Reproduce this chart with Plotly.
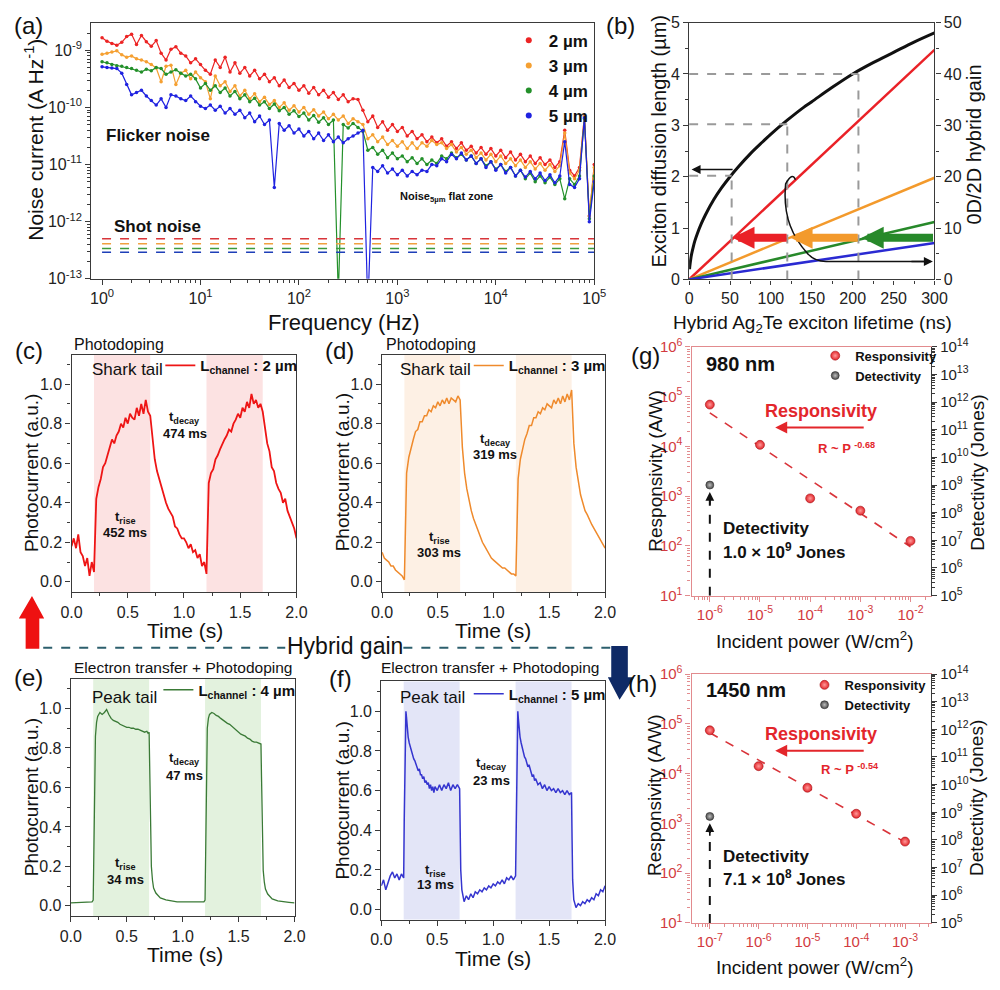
import math
import plotly.graph_objects as go

FONT = "Arial, Liberation Sans, Helvetica, sans-serif"
W, H = 1000, 990


def px(x):
    return x / W


def py(y):
    return 1 - y / H


# ---------------- (a) noise spectra (log10 values) ----------------
freq_log10 = [0.00, 0.05, 0.10, 0.15, 0.20, 0.25, 0.30, 0.35, 0.40, 0.45, 0.50, 0.55, 0.60, 0.65, 0.70,
              0.75, 0.80, 0.85, 0.90, 0.95, 1.00, 1.05, 1.10, 1.15, 1.20, 1.25, 1.30, 1.35, 1.40, 1.45,
              1.50, 1.55, 1.60, 1.65, 1.70, 1.75, 1.80, 1.85, 1.90, 1.95, 2.00, 2.05, 2.10, 2.15, 2.20,
              2.25, 2.30, 2.35, 2.40, 2.45, 2.50, 2.55, 2.60, 2.65, 2.70, 2.75, 2.80, 2.85, 2.90, 2.95,
              3.00, 3.05, 3.10, 3.15, 3.20, 3.25, 3.30, 3.35, 3.40, 3.45, 3.50, 3.55, 3.60, 3.65, 3.70,
              3.75, 3.80, 3.85, 3.90, 3.95, 4.00, 4.05, 4.10, 4.15, 4.20, 4.25, 4.30, 4.35, 4.40, 4.45,
              4.50, 4.55, 4.60, 4.65, 4.70, 4.75, 4.80, 4.85, 4.90, 4.95, 5.00]
noise_2um_log10 = [-8.78, -8.84, -8.88, -8.91, -8.86, -8.76, -8.72, -8.90, -8.74, -8.85, -8.93, -8.83, -9.05, -9.17, -8.98,
                   -8.94, -9.05, -9.10, -9.22, -9.15, -9.25, -9.35, -9.42, -9.17, -9.30, -9.12, -9.38, -9.22, -9.40, -9.30,
                   -9.45, -9.35, -9.50, -9.42, -9.55, -9.48, -9.62, -9.52, -9.65, -9.58, -9.70, -9.62, -9.75, -9.65, -9.78,
                   -9.70, -9.82, -9.74, -9.86, -9.78, -9.90, -9.85, -9.86, -10.05, -10.25, -10.15, -10.35, -10.25, -10.40, -10.30,
                   -10.42, -10.35, -10.50, -10.42, -10.55, -10.48, -10.60, -10.52, -10.62, -10.55, -10.68, -10.60, -10.72, -10.62, -10.75,
                   -10.68, -10.80, -10.70, -10.82, -10.72, -10.85, -10.75, -10.88, -10.78, -10.92, -10.82, -10.95, -10.85, -10.98, -10.88,
                   -11.00, -10.92, -11.05, -10.95, -10.40, -11.10, -11.20, -11.05, -10.15, -11.90, -11.00]
noise_3um_log10 = [-9.07, -9.05, -9.03, -9.01, -9.08, -9.12, -9.10, -9.15, -9.17, -9.20, -9.25, -9.31, -9.55, -9.28, -9.26,
                   -9.60, -9.40, -9.35, -9.50, -9.38, -9.48, -9.55, -9.85, -9.45, -9.62, -9.55, -9.72, -9.62, -9.80, -9.70,
                   -9.85, -9.76, -9.90, -9.82, -9.95, -9.88, -10.00, -9.92, -10.05, -9.97, -10.08, -10.00, -10.12, -10.04, -10.15,
                   -10.08, -10.20, -10.12, -10.22, -10.15, -10.28, -10.20, -10.25, -10.30, -10.55, -10.48, -10.60, -10.52, -10.65, -10.58,
                   -10.68, -10.60, -10.72, -10.62, -10.72, -10.62, -10.68, -10.58, -10.65, -10.62, -10.72, -10.65, -10.78, -10.70, -10.82,
                   -10.75, -10.88, -10.80, -10.92, -10.82, -10.95, -10.85, -10.98, -10.90, -11.02, -10.92, -11.05, -10.95, -11.08, -10.98,
                   -11.10, -11.00, -11.12, -11.02, -10.45, -11.15, -11.25, -11.10, -10.15, -11.90, -11.05]
noise_4um_log10 = [-9.20, -9.22, -9.25, -9.27, -9.28, -9.30, -9.32, -9.35, -9.38, -9.33, -9.36, -9.30, -9.32, -9.42, -9.38,
                   -9.34, -9.40, -9.45, -9.42, -9.50, -9.66, -9.58, -9.70, -9.62, -9.74, -9.66, -9.80, -9.72, -9.85, -9.78,
                   -9.90, -9.84, -9.96, -9.90, -10.02, -9.94, -10.06, -10.00, -10.12, -10.06, -10.16, -10.10, -10.22, -10.14, -10.26,
                   -10.18, -10.30, -10.22, -13.30, -10.30, -10.36, -10.28, -10.35, -10.42, -10.75, -10.70, -10.82, -10.75, -10.88, -10.80,
                   -10.90, -10.85, -10.95, -10.88, -10.98, -10.90, -11.00, -10.92, -10.98, -10.85, -10.90, -10.80, -10.88, -10.82, -10.92,
                   -10.85, -10.98, -10.90, -11.02, -10.95, -11.08, -11.00, -11.12, -11.05, -11.20, -11.10, -11.25, -11.15, -11.30, -11.20,
                   -11.32, -11.22, -11.35, -11.25, -11.60, -11.25, -11.35, -11.20, -10.20, -11.95, -11.20]
noise_5um_log10 = [-9.29, -9.30, -9.31, -9.32, -9.40, -9.60, -9.78, -9.74, -9.70, -9.80, -9.88, -9.96, -9.85, -10.00, -9.78,
                   -9.80, -9.85, -9.88, -9.80, -9.90, -9.98, -10.02, -9.96, -10.05, -9.98, -10.10, -10.02, -10.12, -10.05, -10.18,
                   -10.10, -10.25, -10.15, -10.30, -10.22, -11.40, -10.28, -10.40, -10.32, -10.45, -10.38, -10.50, -10.42, -10.55, -10.45,
                   -10.58, -10.48, -10.60, -10.52, -10.62, -10.55, -10.50, -10.45, -10.40, -13.50, -11.05, -11.12, -11.02, -11.15, -11.08,
                   -11.18, -11.10, -11.20, -11.12, -11.18, -11.10, -11.12, -11.00, -11.02, -10.90, -10.95, -10.82, -10.90, -10.80, -10.92,
                   -10.85, -10.98, -10.90, -11.05, -10.95, -11.10, -11.00, -11.15, -11.05, -11.20, -11.10, -11.22, -11.12, -11.25, -11.15,
                   -11.28, -11.18, -11.32, -11.20, -10.60, -11.35, -11.40, -11.25, -10.18, -12.00, -11.30]
channel_labels = ["2 µm", "3 µm", "4 µm", "5 µm"]
shot_noise = [5.0e-13, 4.1e-13, 3.4e-13, 2.9e-13]
a_colors = ["#ec2424", "#f5a032", "#23902a", "#1f22e0"]
a_shot_colors = ["#d8353a", "#f0a040", "#3c9a3c", "#1e3fb8"]

# ---------------- (b) diffusion length & hybrid gain ----------------
tau_ns = [0.5, 1, 2, 3, 5, 7, 10, 15, 20, 30, 40, 50, 60, 75, 90, 100, 120, 140, 150, 175, 200, 225, 250, 275, 300]
diff_len_um = [0.2, 0.28, 0.4, 0.49, 0.63, 0.75, 0.89, 1.09, 1.26, 1.55, 1.79, 2.0, 2.19, 2.45, 2.68, 2.83, 3.1,
               3.35, 3.46, 3.74, 4.0, 4.22, 4.42, 4.62, 4.80]
gain_tau = [0, 300]
gain_2um = [0, 44.7]
gain_3um = [0, 19.8]
gain_4um = [0, 11.2]
gain_5um = [0, 7.1]
guide_tau = [52, 120, 207]
guide_len = [2.02, 3.02, 4.0]
b_colors = ["#ea2127", "#f39a2c", "#27892a", "#2a2ad2"]

# ---------------- (c)-(f) photocurrent transients ----------------
light_on = [(0.2, 0.7), (1.2, 1.7)]
t_cd = [0.00, 0.02, 0.04, 0.06, 0.08, 0.10, 0.12, 0.14, 0.16, 0.18, 0.20, 0.22, 0.24, 0.26, 0.28, 0.30, 0.32,
        0.34, 0.36, 0.38, 0.40, 0.42, 0.44, 0.46, 0.48, 0.50, 0.52, 0.54, 0.56, 0.58, 0.60, 0.62, 0.64, 0.66,
        0.68, 0.70, 0.72, 0.74, 0.76, 0.78, 0.80, 0.82, 0.84, 0.86, 0.88, 0.90, 0.92, 0.94, 0.96, 0.98, 1.00,
        1.02, 1.04, 1.06, 1.08, 1.10, 1.12, 1.14, 1.16, 1.18, 1.20, 1.22, 1.24, 1.26, 1.28, 1.30, 1.32, 1.34,
        1.36, 1.38, 1.40, 1.42, 1.44, 1.46, 1.48, 1.50, 1.52, 1.54, 1.56, 1.58, 1.60, 1.62, 1.64, 1.66, 1.68,
        1.70, 1.72, 1.74, 1.76, 1.78, 1.80, 1.82, 1.84, 1.86, 1.88, 1.90, 1.92, 1.94, 1.96, 1.98, 2.00]
pc_2um = [0.18, 0.22, 0.17, 0.24, 0.15, 0.13, 0.08, 0.12, 0.03, 0.10, 0.05,
          0.42, 0.48, 0.52, 0.58, 0.60, 0.64, 0.68, 0.72, 0.70, 0.74, 0.76, 0.80, 0.78, 0.83, 0.80, 0.85, 0.83, 0.82,
          0.88, 0.84, 0.90, 0.85, 0.92, 0.86, 0.84,
          0.74, 0.62, 0.56, 0.52, 0.47, 0.44, 0.40, 0.37, 0.35, 0.33, 0.28, 0.27, 0.24, 0.22, 0.22, 0.20, 0.17, 0.19,
          0.15, 0.16, 0.12, 0.14, 0.08, 0.10, 0.04,
          0.50, 0.55, 0.57, 0.62, 0.64, 0.67, 0.70, 0.72, 0.74, 0.77, 0.76, 0.80, 0.82, 0.85, 0.83, 0.88, 0.86, 0.91,
          0.88, 0.95, 0.90, 0.92, 0.88, 0.90, 0.86,
          0.78, 0.70, 0.66, 0.58, 0.56, 0.50, 0.47, 0.45, 0.40, 0.42, 0.36, 0.33, 0.30, 0.27, 0.22]
pc_3um = [0.15, 0.12, 0.11, 0.10, 0.08, 0.08, 0.06, 0.05, 0.04, 0.03, 0.01,
          0.55, 0.63, 0.68, 0.72, 0.76, 0.77, 0.81, 0.81, 0.84, 0.84, 0.87, 0.86, 0.89, 0.88, 0.91, 0.89, 0.92, 0.90,
          0.93, 0.90, 0.93, 0.92, 0.91, 0.94, 0.92,
          0.68, 0.55, 0.47, 0.41, 0.36, 0.32, 0.29, 0.25, 0.23, 0.20, 0.18, 0.16, 0.14, 0.12, 0.11, 0.10, 0.09, 0.08,
          0.07, 0.07, 0.06, 0.05, 0.04, 0.04, 0.03,
          0.52, 0.62, 0.67, 0.72, 0.75, 0.79, 0.79, 0.83, 0.83, 0.86, 0.85, 0.88, 0.87, 0.90, 0.89, 0.88, 0.92, 0.90,
          0.93, 0.90, 0.94, 0.91, 0.95, 0.92, 0.97,
          0.70, 0.58, 0.50, 0.44, 0.40, 0.36, 0.34, 0.31, 0.29, 0.27, 0.25, 0.23, 0.21, 0.19, 0.17]
trace_4um = [(0.00, 0.015), (0.05, 0.017), (0.10, 0.018), (0.15, 0.02), (0.19, 0.02), (0.20, 0.03), (0.205, 0.25),
             (0.21, 0.55), (0.215, 0.75), (0.22, 0.86), (0.23, 0.93), (0.24, 0.96), (0.26, 0.98), (0.28, 0.97),
             (0.30, 0.98), (0.32, 0.995), (0.34, 0.97), (0.36, 0.95), (0.38, 0.94), (0.40, 0.935), (0.42, 0.93),
             (0.44, 0.92), (0.46, 0.915), (0.48, 0.91), (0.50, 0.905), (0.52, 0.905), (0.54, 0.90), (0.56, 0.90),
             (0.58, 0.895), (0.60, 0.895), (0.62, 0.89), (0.64, 0.885), (0.66, 0.88), (0.68, 0.885), (0.69, 0.875),
             (0.70, 0.88), (0.705, 0.70), (0.71, 0.45), (0.715, 0.30), (0.72, 0.20), (0.73, 0.13), (0.74, 0.09),
             (0.76, 0.065), (0.78, 0.05), (0.80, 0.04), (0.85, 0.03), (0.90, 0.025), (0.95, 0.02), (1.00, 0.02),
             (1.05, 0.02), (1.10, 0.018), (1.15, 0.02), (1.19, 0.02), (1.20, 0.03), (1.205, 0.30), (1.21, 0.60),
             (1.215, 0.80), (1.22, 0.90), (1.23, 0.95), (1.24, 0.97), (1.26, 0.98), (1.28, 0.975), (1.30, 0.965),
             (1.32, 0.96), (1.34, 0.95), (1.36, 0.94), (1.38, 0.935), (1.40, 0.925), (1.42, 0.92), (1.44, 0.91),
             (1.46, 0.90), (1.48, 0.895), (1.50, 0.88), (1.52, 0.87), (1.54, 0.865), (1.56, 0.86), (1.58, 0.85),
             (1.60, 0.845), (1.62, 0.835), (1.64, 0.83), (1.66, 0.83), (1.68, 0.825), (1.69, 0.82), (1.70, 0.82),
             (1.705, 0.65), (1.71, 0.40), (1.715, 0.26), (1.72, 0.18), (1.73, 0.12), (1.74, 0.085), (1.76, 0.06),
             (1.78, 0.045), (1.80, 0.035), (1.85, 0.025), (1.90, 0.02), (1.95, 0.018), (2.00, 0.015)]
trace_5um = [(0.00, 0.12), (0.02, 0.15), (0.04, 0.10), (0.06, 0.14), (0.08, 0.17), (0.10, 0.19), (0.12, 0.16),
             (0.14, 0.18), (0.16, 0.15), (0.18, 0.18), (0.20, 0.16), (0.205, 0.45), (0.21, 0.75), (0.215, 0.93),
             (0.22, 1.0), (0.225, 0.97), (0.23, 0.92), (0.24, 0.87), (0.25, 0.84), (0.26, 0.82), (0.27, 0.79),
             (0.28, 0.78), (0.29, 0.76), (0.30, 0.75), (0.31, 0.73), (0.32, 0.72), (0.33, 0.70), (0.34, 0.71),
             (0.35, 0.68), (0.36, 0.68), (0.37, 0.66), (0.38, 0.67), (0.39, 0.64), (0.40, 0.65), (0.41, 0.63),
             (0.42, 0.64), (0.43, 0.61), (0.44, 0.63), (0.45, 0.60), (0.46, 0.62), (0.47, 0.59), (0.48, 0.62),
             (0.50, 0.60), (0.52, 0.63), (0.54, 0.60), (0.56, 0.63), (0.58, 0.61), (0.60, 0.64), (0.62, 0.60),
             (0.64, 0.63), (0.66, 0.61), (0.68, 0.63), (0.70, 0.61), (0.705, 0.40), (0.71, 0.20), (0.72, 0.10),
             (0.73, 0.06), (0.74, 0.04), (0.76, 0.07), (0.78, 0.05), (0.80, 0.08), (0.82, 0.06), (0.84, 0.09),
             (0.86, 0.08), (0.88, 0.10), (0.90, 0.09), (0.92, 0.11), (0.94, 0.10), (0.96, 0.12), (0.98, 0.11),
             (1.00, 0.13), (1.02, 0.12), (1.04, 0.14), (1.06, 0.13), (1.08, 0.15), (1.10, 0.13), (1.12, 0.16),
             (1.14, 0.15), (1.16, 0.17), (1.18, 0.15), (1.20, 0.17), (1.205, 0.45), (1.21, 0.75), (1.215, 0.93),
             (1.22, 1.0), (1.225, 0.96), (1.23, 0.91), (1.24, 0.87), (1.25, 0.84), (1.26, 0.81), (1.27, 0.79),
             (1.28, 0.77), (1.29, 0.76), (1.30, 0.74), (1.31, 0.72), (1.32, 0.73), (1.33, 0.70), (1.34, 0.69),
             (1.35, 0.67), (1.36, 0.68), (1.37, 0.65), (1.38, 0.66), (1.40, 0.63), (1.42, 0.64), (1.44, 0.61),
             (1.46, 0.63), (1.48, 0.60), (1.50, 0.62), (1.52, 0.60), (1.54, 0.61), (1.56, 0.59), (1.58, 0.61),
             (1.60, 0.59), (1.62, 0.60), (1.64, 0.58), (1.66, 0.60), (1.68, 0.58), (1.70, 0.59), (1.705, 0.35),
             (1.71, 0.15), (1.72, 0.05), (1.73, 0.02), (1.74, 0.01), (1.76, 0.03), (1.78, 0.02), (1.80, 0.04),
             (1.82, 0.03), (1.84, 0.05), (1.86, 0.04), (1.88, 0.06), (1.90, 0.05), (1.92, 0.08), (1.94, 0.07),
             (1.96, 0.10), (1.98, 0.09), (2.00, 0.12)]

# ---------------- (g), (h) responsivity / detectivity ----------------
power_980 = [1e-6, 1e-5, 1e-4, 1e-3, 1e-2]
resp_980 = [6.9e4, 1.07e4, 9.0e2, 5.1e2, 1.26e2]
fit_980_power = [1e-6, 1e-2]
fit_980_resp = [4.7e4, 9.6e1]
det_980_power = [1e-6]
det_980 = [1.0e9]
power_1450 = [1e-7, 1e-6, 1e-5, 1e-4, 1e-3]
resp_1450 = [7.4e4, 1.41e4, 5.2e3, 1.56e3, 4.3e2]
fit_1450_power = [1e-7, 1e-3]
fit_1450_resp = [6.6e4, 4.2e2]
det_1450_power = [1e-7]
det_1450 = [7.1e8]

# ---------------- tick labels ----------------
freq_ticks = [1, 10, 100, 1e3, 1e4, 1e5]
freq_ticktext = ["10<sup>0</sup>", "10<sup>1</sup>", "10<sup>2</sup>", "10<sup>3</sup>", "10<sup>4</sup>", "10<sup>5</sup>"]
noise_ticks = [1e-13, 1e-12, 1e-11, 1e-10, 1e-9]
noise_ticktext = ["10<sup>-13</sup>", "10<sup>-12</sup>", "10<sup>-11</sup>", "10<sup>-10</sup>", "10<sup>-9</sup>"]
resp_ticks = [1e1, 1e2, 1e3, 1e4, 1e5, 1e6]
resp_ticktext = ["10<sup>1</sup>", "10<sup>2</sup>", "10<sup>3</sup>", "10<sup>4</sup>", "10<sup>5</sup>", "10<sup>6</sup>"]
det_ticks = [1e5, 1e6, 1e7, 1e8, 1e9, 1e10, 1e11, 1e12, 1e13, 1e14]
det_ticktext = ["10<sup>5</sup>", "10<sup>6</sup>", "10<sup>7</sup>", "10<sup>8</sup>", "10<sup>9</sup>",
                "10<sup>10</sup>", "10<sup>11</sup>", "10<sup>12</sup>", "10<sup>13</sup>", "10<sup>14</sup>"]
p980_ticks = [1e-6, 1e-5, 1e-4, 1e-3, 1e-2]
p980_ticktext = ["10<sup>-6</sup>", "10<sup>-5</sup>", "10<sup>-4</sup>", "10<sup>-3</sup>", "10<sup>-2</sup>"]
p1450_ticks = [1e-7, 1e-6, 1e-5, 1e-4, 1e-3]
p1450_ticktext = ["10<sup>-7</sup>", "10<sup>-6</sup>", "10<sup>-5</sup>", "10<sup>-4</sup>", "10<sup>-3</sup>"]


def log_minor(lo, hi):
    out = []
    for e in range(lo, hi):
        for m in range(2, 10):
            out.append(m * 10.0 ** e)
    return out


fig = go.Figure()

# ---- (a)
freq_hz = [10 ** v for v in freq_log10]
for name, vals, col in zip(channel_labels,
                           [noise_2um_log10, noise_3um_log10, noise_4um_log10, noise_5um_log10], a_colors):
    fig.add_trace(go.Scatter(x=freq_hz, y=[10 ** v for v in vals], mode="lines+markers",
                             line=dict(color=col, width=1.2), marker=dict(size=3.5, color=col),
                             showlegend=False, xaxis="x", yaxis="y"))
for name, s, col in zip(channel_labels, shot_noise, a_shot_colors):
    fig.add_trace(go.Scatter(x=[freq_hz[0], freq_hz[-1]], y=[s, s], mode="lines",
                             line=dict(color=col, width=1.5, dash="dash"), showlegend=False,
                             xaxis="x", yaxis="y"))
for name, col in zip(channel_labels, a_colors):
    fig.add_trace(go.Scatter(x=[None], y=[None], mode="markers", marker=dict(size=6, color=col),
                             name="<b>%s</b>" % name, legend="legend", xaxis="x", yaxis="y"))

# ---- (b)
fig.add_trace(go.Scatter(x=tau_ns, y=diff_len_um, mode="lines", line=dict(color="#111", width=3, shape="spline"),
                         showlegend=False, xaxis="x2", yaxis="y2"))
for g, col in zip([gain_2um, gain_3um, gain_4um, gain_5um], b_colors):
    fig.add_trace(go.Scatter(x=gain_tau, y=g, mode="lines", line=dict(color=col, width=2.5),
                             showlegend=False, xaxis="x2", yaxis="y3"))

# ---- (c)-(f)
t_4um = [p[0] for p in trace_4um]
v_4um = [p[1] for p in trace_4um]
t_5um = [p[0] for p in trace_5um]
v_5um = [p[1] for p in trace_5um]
transients = [
    (t_cd, pc_2um, "#ee1515", 1.8, "x3", "y4", "legend2", "2 µm"),
    (t_cd, pc_3um, "#ef8a2c", 1.5, "x4", "y5", "legend3", "3 µm"),
    (t_4um, v_4um, "#3a7a36", 1.3, "x5", "y6", "legend4", "4 µm"),
    (t_5um, v_5um, "#3535cf", 1.5, "x6", "y7", "legend5", "5 µm"),
]
for t, v, col, lw, xa, ya, lg, lab in transients:
    fig.add_trace(go.Scatter(x=t, y=v, mode="lines", line=dict(color=col, width=lw),
                             name="<b>L<sub>channel</sub> : %s</b>" % lab, legend=lg, xaxis=xa, yaxis=ya))

# ---- (g), (h)
RED = "#e3262b"
AXRED = "#e28b8e"
TXRED = "#d23a40"
for (pw, rs, fp, fr, dp, dv, xa, yl, yr, lg) in [
        (power_980, resp_980, fit_980_power, fit_980_resp, det_980_power, det_980, "x7", "y8", "y9", "legend6"),
        (power_1450, resp_1450, fit_1450_power, fit_1450_resp, det_1450_power, det_1450, "x8", "y10", "y11", "legend7")]:
    fig.add_trace(go.Scatter(x=fp, y=fr, mode="lines", line=dict(color="#d9343a", width=1.6, dash="dash"),
                             showlegend=False, xaxis=xa, yaxis=yl))
    fig.add_trace(go.Scatter(x=pw, y=rs, mode="markers", name="<b>Responsivity</b>", legend=lg,
                             marker=dict(size=9, color=RED, line=dict(color="#a51218", width=0.6),
                                         gradient=dict(type="radial", color="#ff9a9a")),
                             xaxis=xa, yaxis=yl))
    fig.add_trace(go.Scatter(x=[dp[0], dp[0]], y=[1e5, dv[0] * 10 ** -0.35], mode="lines",
                             line=dict(color="#111", width=2, dash="dash"), showlegend=False,
                             xaxis=xa, yaxis=yr))
    fig.add_trace(go.Scatter(x=dp, y=dv, mode="markers", name="<b>Detectivity</b>", legend=lg,
                             marker=dict(size=8, color="#4a4a4a", line=dict(color="#333", width=0.6),
                                         gradient=dict(type="radial", color="#bdbdbd")),
                             xaxis=xa, yaxis=yr))


# ---------------- axes ----------------
def axis(size=15, **kw):
    base = dict(showline=True, linecolor="#3a3a3a", linewidth=1.2, mirror=True, ticks="outside",
                ticklen=5, tickwidth=1.1, tickcolor="#3a3a3a", showgrid=False, zeroline=False,
                tickfont=dict(size=size, color="#222", family=FONT))
    base.update(kw)
    return base


layout_axes = {}
# (a)
layout_axes["xaxis"] = axis(16, type="log", range=[-0.11, 5.0], domain=[px(82.2), px(597.6)], anchor="y",
                            tickmode="array", tickvals=freq_ticks, ticktext=freq_ticktext,
                            minor=dict(tickvals=log_minor(0, 5), ticklen=3, ticks="outside", tickcolor="#3a3a3a"))
layout_axes["yaxis"] = axis(16, type="log", range=[-13, -8.53], domain=[py(273.3), py(12.7)], anchor="x",
                            tickmode="array", tickvals=noise_ticks, ticktext=noise_ticktext,
                            minor=dict(tickvals=log_minor(-13, -8), ticklen=3, ticks="outside", tickcolor="#3a3a3a"))
# (b)
layout_axes["xaxis2"] = axis(16, range=[0, 300], domain=[px(694.8), px(946.2)], anchor="y2", dtick=50, ticklen=4,
                             minor=dict(dtick=25, ticklen=3, ticks="outside"))
layout_axes["yaxis2"] = axis(16, range=[0, 5], domain=[py(274), py(11.8)], anchor="x2", dtick=1, mirror=False,
                             minor=dict(dtick=0.5, ticklen=3, ticks="outside"))
layout_axes["yaxis3"] = axis(16, range=[0, 50], overlaying="y2", side="right", anchor="x2", dtick=10, mirror=False,
                             minor=dict(dtick=5, ticklen=3, ticks="outside"))
# (c)-(f)
tr_axes = [("xaxis3", "yaxis4", "x3", "y4", 62, 292.5, 593.3, 350.7, [-0.053, 1.149]),
           ("xaxis4", "yaxis5", "x4", "y5", 380.2, 608.7, 593.3, 350.7, [-0.053, 1.149]),
           ("xaxis5", "yaxis6", "x5", "y6", 61.3, 290.5, 924.0, 681.7, [-0.053, 1.15]),
           ("xaxis6", "yaxis7", "x6", "y7", 379.4, 608.7, 927.3, 684.3, [-0.05, 1.15])]
for xn, yn, xs, ys, l, r, b, t, yr in tr_axes:
    layout_axes[xn] = axis(16, range=[0, 2], domain=[px(l), px(r)], anchor=ys, dtick=0.5, tickformat=".1f",
                           minor=dict(dtick=0.25, ticklen=3, ticks="outside"))
    layout_axes[yn] = axis(16, range=yr, domain=[py(b), py(t)], anchor=xs, tickmode="array",
                           tickvals=[0, 0.2, 0.4, 0.6, 0.8, 1.0], tickformat=".1f",
                           minor=dict(tickvals=[0.1, 0.3, 0.5, 0.7, 0.9, 1.1], ticklen=3, ticks="outside"))
# (g), (h)
gh_axes = [("xaxis7", "yaxis8", "yaxis9", "x7", "y8", [-6.364, -1.59], p980_ticks, p980_ticktext,
            log_minor(-7, -1), 596.7, 342.7),
           ("xaxis8", "yaxis10", "yaxis11", "x8", "y10", [-7.374, -2.466], p1450_ticks, p1450_ticktext,
            log_minor(-8, -2), 930.7, 676.7)]
for xn, yln, yrn, xs, ys, xr, tv, tt, mn, b, t in gh_axes:
    layout_axes[xn] = axis(15, type="log", range=xr, domain=[px(697.3), px(942.7)], anchor=ys,
                           tickmode="array", tickvals=tv, ticktext=tt, linecolor=AXRED, tickcolor=AXRED,
                           tickfont=dict(size=15, color=TXRED, family=FONT),
                           minor=dict(tickvals=mn, ticklen=3, ticks="outside", tickcolor=AXRED))
    layout_axes[yln] = axis(15, type="log", range=[1, 6], domain=[py(b), py(t)], anchor=xs, mirror=False,
                            tickmode="array", tickvals=resp_ticks, ticktext=resp_ticktext,
                            linecolor=AXRED, tickcolor=AXRED, tickfont=dict(size=15, color=TXRED, family=FONT),
                            minor=dict(tickvals=log_minor(1, 6), ticklen=3, ticks="outside", tickcolor=AXRED))
    layout_axes[yrn] = axis(15, type="log", range=[5, 14], overlaying=ys, side="right", anchor=xs, mirror=False,
                            tickmode="array", tickvals=det_ticks, ticktext=det_ticktext,
                            minor=dict(tickvals=log_minor(5, 14), ticklen=3, ticks="outside"))

# ---------------- annotations ----------------
ann = []


def txt(text, x, y, size=14, bold=False, color="#111", xanchor="center", angle=0):
    if bold:
        text = "<b>%s</b>" % text
    ann.append(dict(text=text, x=px(x), y=py(y), xref="paper", yref="paper", showarrow=False,
                    xanchor=xanchor, yanchor="middle", textangle=angle,
                    font=dict(size=size, color=color, family=FONT)))


# panel letters
for lab, x, y in [("(a)", 18, 15), ("(b)", 624, 15), ("(c)", 18, 346), ("(d)", 337, 346),
                  ("(e)", 18, 680), ("(f)", 338, 681), ("(g)", 650, 352), ("(h)", 647, 686)]:
    txt(lab, x, y, size=24)

# (a)
txt("Noise current (A Hz<sup>-1</sup>)", 24, 131, size=21, angle=-90)
txt("Frequency (Hz)", 341, 318, size=22)
txt("Flicker noise", 95, 127, size=17, bold=True, xanchor="left")
txt("Shot noise", 103, 220, size=17, bold=True, xanchor="left")
txt("Noise<sub>5µm</sub> flat zone", 397, 190, size=11, bold=True, xanchor="left")
# (b)
txt("Exciton diffusion length (µm)", 664, 133, size=20, angle=-90)
txt("0D/2D hybrid gain", 987, 136, size=20, angle=-90)
txt("Hybrid Ag<sub>2</sub>Te exciton lifetime (ns)", 821, 319, size=19)
# (c)
txt("Photodoping", 63, 340, size=16, xanchor="left")
txt("Shark tail", 81, 366, size=17, xanchor="left")
txt("t<sub>decay</sub>", 178, 415, size=13, bold=True)
txt("474 ms", 178, 431, size=13, bold=True)
txt("t<sub>rise</sub>", 117, 517, size=13, bold=True)
txt("452 ms", 117, 532, size=13, bold=True)
txt("Photocurrent (a.u.)", 21, 471, size=19, angle=-90)
txt("Time (s)", 178, 632, size=21)
# (d)
txt("Photodoping", 382, 340, size=16, xanchor="left")
txt("Shark tail", 397, 366, size=17, xanchor="left")
txt("t<sub>decay</sub>", 496, 437, size=13, bold=True)
txt("319 ms", 496, 453, size=13, bold=True)
txt("t<sub>rise</sub>", 439, 537, size=13, bold=True)
txt("303 ms", 439, 553, size=13, bold=True)
txt("Photocurrent (a.u.)", 340, 471, size=19, angle=-90)
txt("Time (s)", 494, 632, size=21)
# hybrid gain
txt("Hybrid gain", 342, 648, size=23)
# (e)
txt("Electron transfer + Photodoping", 62, 670, size=15.5, xanchor="left")
txt("Peak tail", 81, 701, size=17, xanchor="left")
txt("t<sub>decay</sub>", 178, 763, size=13, bold=True)
txt("47 ms", 178, 780, size=13, bold=True)
txt("t<sub>rise</sub>", 117, 870, size=13, bold=True)
txt("34 ms", 117, 886, size=13, bold=True)
txt("Photocurrent (a.u.)", 21, 802, size=19, angle=-90)
txt("Time (s)", 178, 963, size=21)
# (f)
txt("Electron transfer + Photodoping", 377, 670, size=15.5, xanchor="left")
txt("Peak tail", 397, 701, size=17, xanchor="left")
txt("t<sub>decay</sub>", 492, 768, size=13, bold=True)
txt("23 ms", 492, 785, size=13, bold=True)
txt("t<sub>rise</sub>", 435, 877, size=13, bold=True)
txt("13 ms", 435, 892, size=13, bold=True)
txt("Photocurrent (a.u.)", 340, 806, size=19, angle=-90)
txt("Time (s)", 494, 967, size=21)
# (g)
txt("980 nm", 710, 360, size=20, bold=True, xanchor="left")
txt("Responsivity", 830, 408, size=18, bold=True, color=RED)
txt("R ~ P <sup>-0.68</sup>", 825, 446, size=13, bold=True, color=RED, xanchor="left")
txt("Detectivity", 727, 528, size=17, bold=True, xanchor="left")
txt("1.0 × 10<sup>9</sup> Jones", 727, 551, size=17, bold=True, xanchor="left")
txt("Responsivity (A/W)", 660, 469, size=19, angle=-90)
txt("Detectivity (Jones)", 990, 471, size=19, angle=-90)
txt("Incident power (W/cm<sup>2</sup>)", 823, 642, size=19)
# (h)
txt("1450 nm", 710, 693, size=20, bold=True, xanchor="left")
txt("Responsivity", 830, 738, size=18, bold=True, color=RED)
txt("R ~ P <sup>-0.54</sup>", 828, 774, size=13, bold=True, color=RED, xanchor="left")
txt("Detectivity", 727, 863, size=17, bold=True, xanchor="left")
txt("7.1 × 10<sup>8</sup> Jones", 727, 885, size=17, bold=True, xanchor="left")
txt("Responsivity (A/W)", 660, 800, size=19, angle=-90)
txt("Detectivity (Jones)", 990, 803, size=19, angle=-90)
txt("Incident power (W/cm<sup>2</sup>)", 823, 975, size=19)

# arrows: responsivity arrows (g, h)
for y in [425, 755]:
    ann.append(dict(x=px(783), y=py(y), xref="paper", yref="paper", ax=90, ay=0, text="",
                    showarrow=True, arrowhead=2, arrowsize=1.2, arrowwidth=2, arrowcolor=RED))
# detectivity arrow heads
for xa, yr, dp, dv in [("x7", "y9", det_980_power, det_980), ("x8", "y11", det_1450_power, det_1450)]:
    ann.append(dict(x=math.log10(dp[0]), y=math.log10(dv[0]) - 0.25, xref=xa, yref=yr, ax=0, ay=14, text="",
                    showarrow=True, arrowhead=2, arrowsize=1.1, arrowwidth=1.6, arrowcolor="#111"))
# (b) arrows
for head, tail, col in [(53, 121, b_colors[0]), (124, 208, b_colors[1]), (211, 300, b_colors[2])]:
    ann.append(dict(x=head, y=0.81, ax=tail, ay=0.81, xref="x2", yref="y2", axref="x2", ayref="y2",
                    text="", showarrow=True, arrowhead=2, arrowsize=0.55, arrowwidth=8, arrowcolor=col))
ann.append(dict(x=3, y=2.14, ax=55, ay=2.14, xref="x2", yref="y2", axref="x2", ayref="y2", text="",
                showarrow=True, arrowhead=2, arrowsize=1.2, arrowwidth=1.5, arrowcolor="#111"))
ann.append(dict(x=298, y=0.35, ax=270, ay=0.35, xref="x2", yref="y2", axref="x2", ayref="y2", text="",
                showarrow=True, arrowhead=2, arrowsize=1.2, arrowwidth=1.5, arrowcolor="#111"))

# ---------------- shapes ----------------
shapes = []
shade_cols = [("x3", "y4", "#fce2e2"), ("x4", "y5", "#fdf0e4"), ("x5", "y6", "#e3f2de"), ("x6", "y7", "#e3e5f7")]
for xa, ya, col in shade_cols:
    for t0, t1 in light_on:
        shapes.append(dict(type="rect", xref=xa, yref=ya + " domain", x0=t0, x1=t1, y0=0, y1=1,
                           fillcolor=col, line=dict(width=0), layer="below"))
for tau, L in zip(guide_tau, guide_len):
    shapes.append(dict(type="line", xref="x2", yref="y2", x0=tau, x1=tau, y0=0, y1=L,
                       line=dict(color="#9a9a9a", width=2, dash="dash")))
    shapes.append(dict(type="line", xref="x2", yref="y2", x0=0, x1=tau, y0=L, y1=L,
                       line=dict(color="#9a9a9a", width=2, dash="dash")))
shapes.append(dict(type="path", xref="x2", yref="y2",
                   path="M 130,1.94 Q 126,2.1 118,1.86 C 114,1.2 128,0.8 145,0.5 C 152,0.38 160,0.34 170,0.35 L 290,0.35",
                   line=dict(color="#111", width=1.5)))


def paper_path(pts):
    return "M " + " L ".join("%.5f,%.5f" % (px(x), py(y)) for x, y in pts) + " Z"


shapes.append(dict(type="path", xref="paper", yref="paper",
                   path=paper_path([(15, 651), (29, 651), (29, 620), (34, 620), (21.5, 597), (8, 620), (15, 620)]),
                   fillcolor="#ee1111", line=dict(width=0)))
shapes.append(dict(type="path", xref="paper", yref="paper",
                   path=paper_path([(615, 648), (632, 648), (632, 680), (638.5, 680), (623.5, 703), (611.5, 680),
                                    (615, 680)]),
                   fillcolor="#0f2a66", line=dict(width=0)))
for x0, x1 in [(33, 281), (402, 614)]:
    shapes.append(dict(type="line", xref="paper", yref="paper", x0=px(x0), x1=px(x1), y0=py(650), y1=py(650),
                       line=dict(color="#2c5f6d", width=2, dash="dash")))


# ---------------- legends ----------------
def leg(x, y, size, yanchor="middle"):
    return dict(x=px(x), y=py(y), xanchor="left", yanchor=yanchor, bgcolor="rgba(0,0,0,0)",
                font=dict(size=size, color="#111", family=FONT), itemwidth=30, tracegroupgap=0,
                borderwidth=0)


fig.update_layout(
    width=W, height=H, margin=dict(l=0, r=0, t=0, b=0),
    paper_bgcolor="white", plot_bgcolor="rgba(0,0,0,0)",
    font=dict(family=FONT, color="#111"),
    annotations=ann, shapes=shapes,
    legend=leg(510, 12, 17, yanchor="top"),
    legend2=leg(153, 362, 15),
    legend3=leg(469, 362, 15),
    legend4=leg(151, 693, 15),
    legend5=leg(469, 697, 15),
    legend6=leg(824, 362, 13),
    legend7=leg(813, 698, 13),
    **layout_axes,
)

fig.write_html("out.html")
